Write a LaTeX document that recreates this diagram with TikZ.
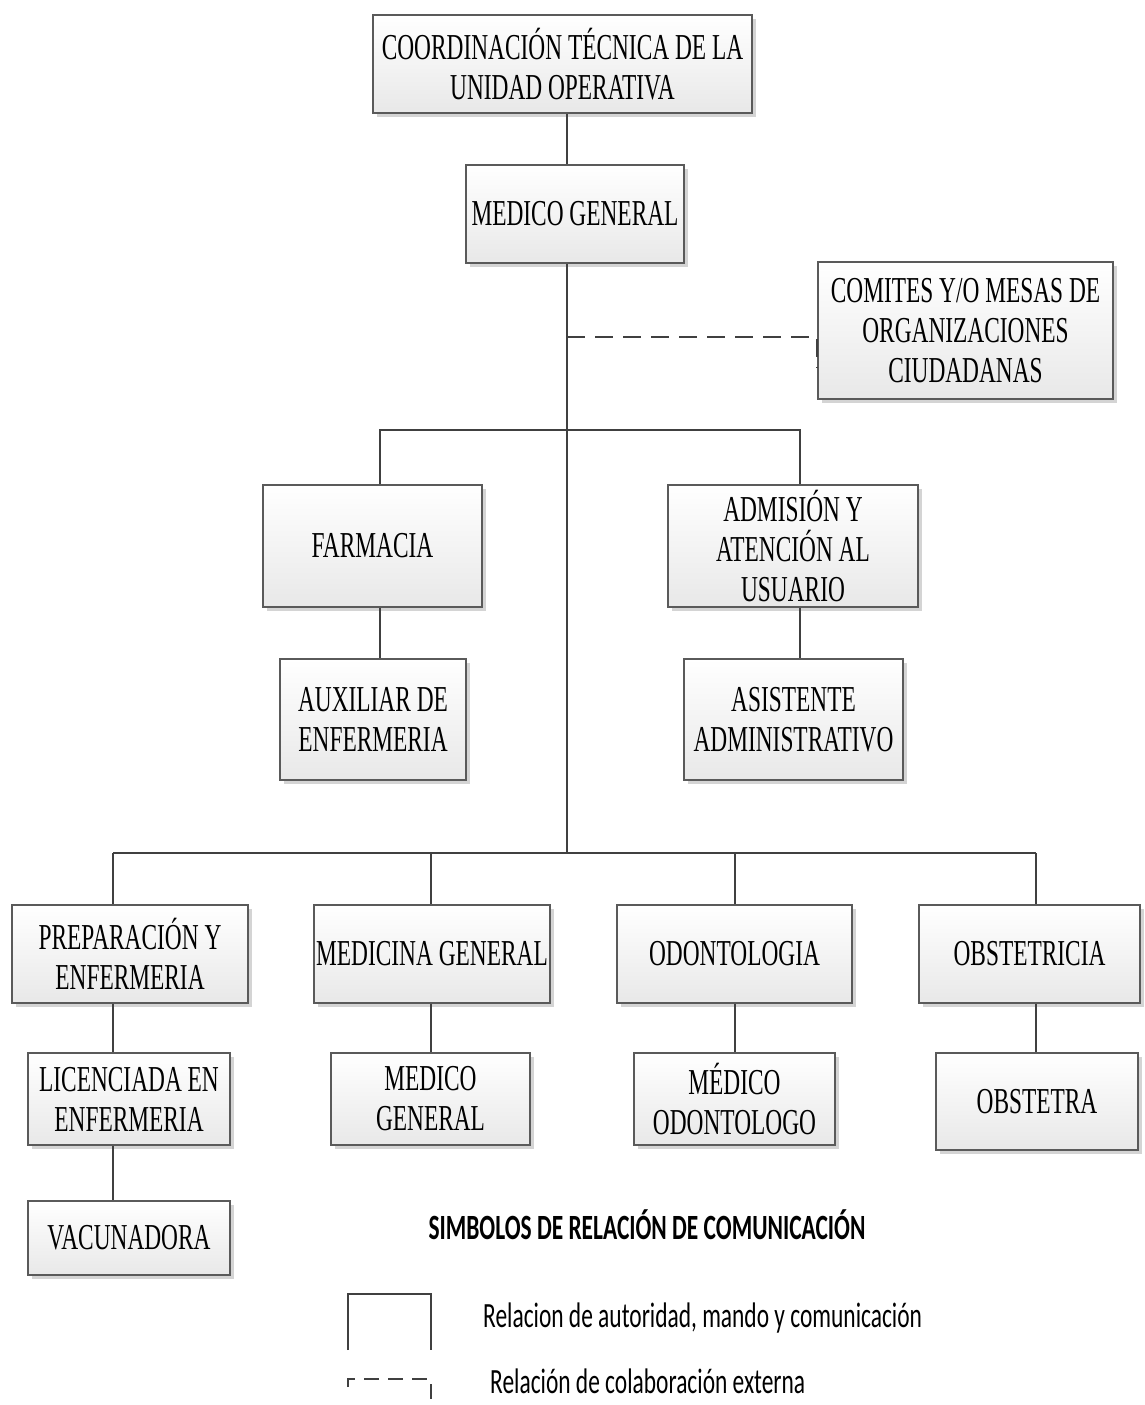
\documentclass[tikz,border=0pt]{standalone}
\usepackage{fontspec}
\usetikzlibrary{shadows}
\newfontfamily\tnr[FakeStretch=0.64]{Liberation Serif}
\newfontfamily\calfont[FakeStretch=0.66]{Carlito}
\definecolor{linec}{HTML}{404040}
\definecolor{boxc}{HTML}{5A5A5A}
\definecolor{shadc}{HTML}{D4D4D4}
\tikzset{
  orgbox/.style={draw=boxc, line width=1.3pt, top color=white, bottom color=black!9,
    align=center, inner sep=0pt, font=\tnr\fontsize{36.5}{40}\selectfont,
    drop shadow={shadow xshift=4pt, shadow yshift=-4pt, fill=shadc, opacity=1}},
  conn/.style={draw=linec, line width=1.8pt},
  dconn/.style={draw=linec, line width=1.8pt, dash pattern=on 18pt off 10pt},
  legtext/.style={font=\calfont\fontsize{35.5}{40}\selectfont, anchor=west, inner sep=0pt},
}
\begin{document}
\begin{tikzpicture}[x=1pt,y=-1pt]
\useasboundingbox (0,0) rectangle (1144,1405);
% named junctions
\coordinate (j1) at (567,430);
\coordinate (j2) at (567,853);
\coordinate (bl) at (380,430);
\coordinate (br) at (800,430);
\coordinate (c1) at (113,853);
\coordinate (c2) at (431,853);
\coordinate (c3) at (735,853);
\coordinate (c4) at (1036,853);
\coordinate (dstart) at (567,337);
% boxes
\node[orgbox, minimum width=379pt, minimum height=98pt] (coord) at (562.5,64) {COORDINACIÓN TÉCNICA DE LA\\UNIDAD OPERATIVA};
\node[orgbox, minimum width=218pt, minimum height=98pt] (medgen) at (575,214) {MEDICO GENERAL};
\node[orgbox, minimum width=295pt, minimum height=137pt] (comites) at (965.5,330.5) {COMITES Y/O MESAS DE\\ORGANIZACIONES\\CIUDADANAS};
\node[orgbox, minimum width=219pt, minimum height=122pt] (farmacia) at (372.5,546) {FARMACIA};
\node[orgbox, minimum width=250pt, minimum height=122pt] (admision) at (793,546) {ADMISIÓN Y\\ATENCIÓN AL\\USUARIO};
\node[orgbox, minimum width=186pt, minimum height=121pt] (auxiliar) at (373,719.5) {AUXILIAR DE\\ENFERMERIA};
\node[orgbox, minimum width=219pt, minimum height=121pt] (asistente) at (793.5,719.5) {ASISTENTE\\ADMINISTRATIVO};
\node[orgbox, minimum width=236pt, minimum height=98pt] (prep) at (130,954) {PREPARACIÓN Y\\ENFERMERIA};
\node[orgbox, minimum width=236pt, minimum height=98pt] (medicina) at (432,954) {MEDICINA GENERAL};
\node[orgbox, minimum width=235pt, minimum height=98pt] (odonto) at (734.5,954) {ODONTOLOGIA};
\node[orgbox, minimum width=221pt, minimum height=98pt] (obstetricia) at (1029.5,954) {OBSTETRICIA};
\node[orgbox, minimum width=202pt, minimum height=92pt] (licenciada) at (129,1099) {LICENCIADA EN\\ENFERMERIA};
\node[orgbox, minimum width=199pt, minimum height=92pt] (medgen2) at (430.5,1099) {MEDICO\\GENERAL};
\node[orgbox, minimum width=201pt, minimum height=92pt] (medodon) at (734.5,1099) {MÉDICO\\ODONTOLOGO};
\node[orgbox, minimum width=202pt, minimum height=97pt] (obstetra) at (1037,1101.5) {OBSTETRA};
\node[orgbox, minimum width=202pt, minimum height=74pt] (vacunadora) at (129,1238) {VACUNADORA};
% connectors
\draw[conn] (567,0 |- coord.south) -- (567,0 |- medgen.north);
\draw[conn] (567,0 |- medgen.south) -- (j1) -- (j2);
\draw[conn] (380,0 |- farmacia.north) -- (bl) -- (br) -- (800,0 |- admision.north);
\draw[conn] (380,0 |- farmacia.south) -- (380,0 |- auxiliar.north);
\draw[conn] (800,0 |- admision.south) -- (800,0 |- asistente.north);
\draw[conn] (c1) -- (c4);
\draw[conn] (c1) -- (113,0 |- prep.north);
\draw[conn] (c2) -- (431,0 |- medicina.north);
\draw[conn] (c3) -- (735,0 |- odonto.north);
\draw[conn] (c4) -- (1036,0 |- obstetricia.north);
\draw[conn] (113,0 |- prep.south) -- (113,0 |- licenciada.north);
\draw[conn] (431,0 |- medicina.south) -- (431,0 |- medgen2.north);
\draw[conn] (735,0 |- odonto.south) -- (735,0 |- medodon.north);
\draw[conn] (1036,0 |- obstetricia.south) -- (1036,0 |- obstetra.north);
\draw[conn] (113,0 |- licenciada.south) -- (113,0 |- vacunadora.north);
\draw[dconn] (dstart) -- (comites.west |- dstart) -- (comites.west |- 0,368);
% legend
\node[font=\calfont\bfseries\fontsize{35.5}{40}\selectfont, inner sep=0pt] (legtitle) at (647,1225) {SIMBOLOS DE RELACIÓN DE COMUNICACIÓN};
\draw[conn, line width=1.6pt] (348,1350) -- (348,1294) -- (431,1294) -- (431,1350);
\draw[conn, line width=1.6pt, dash pattern=on 15pt off 9pt] (348,1387) -- (348,1379) -- (431,1379) -- (431,1405);
\node[legtext] (leg1) at (483,1318) {Relacion de autoridad, mando y comunicación};
\node[legtext] (leg2) at (490,1381) {Relación de colaboración externa};
\end{tikzpicture}
\end{document}
